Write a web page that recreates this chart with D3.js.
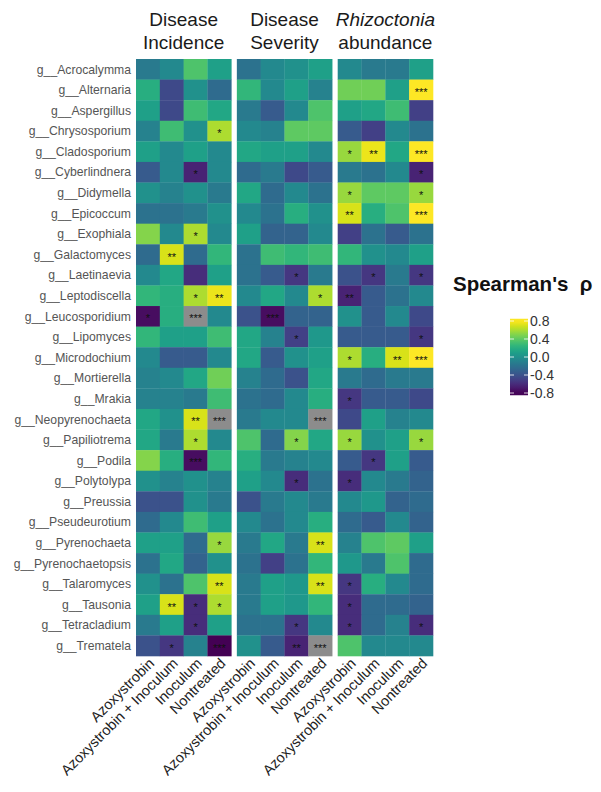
<!DOCTYPE html>
<html>
<head>
<meta charset="utf-8">
<script src="https://cdn.jsdelivr.net/npm/d3@7"></script>
<style>
  body { margin: 0; background: #fff; }
  text { font-family: "Liberation Sans", Arial, sans-serif; }
</style>
</head>
<body>
<svg id="chart" width="601" height="792"></svg>
<script>
// genus rows, top to bottom
const genera = ["g__Acrocalymma", "g__Alternaria", "g__Aspergillus", "g__Chrysosporium",
  "g__Cladosporium", "g__Cyberlindnera", "g__Didymella", "g__Epicoccum", "g__Exophiala",
  "g__Galactomyces", "g__Laetinaevia", "g__Leptodiscella", "g__Leucosporidium", "g__Lipomyces",
  "g__Microdochium", "g__Mortierella", "g__Mrakia", "g__Neopyrenochaeta", "g__Papiliotrema",
  "g__Podila", "g__Polytolypa", "g__Preussia", "g__Pseudeurotium", "g__Pyrenochaeta",
  "g__Pyrenochaetopsis", "g__Talaromyces", "g__Tausonia", "g__Tetracladium", "g__Trematela"];

const treatments = ["Azoxystrobin", "Azoxystrobin + Inoculum", "Inoculum", "Nontreated"];

const panels = ["Disease Incidence", "Disease Severity", "Rhizoctonia abundance"];
const panelTitles = [["Disease", "Incidence"], ["Disease", "Severity"], ["Rhizoctonia", "abundance"]];

// Spearman's rho, one row per genus, columns = treatments; null = NA (grey)
const incidence = [
  [-0.15, -0.05, 0.35, 0.1], [0.2, -0.45, 0.0, -0.25], [0.1, -0.45, 0.3, 0.15], [-0.1, 0.3, 0.0, 0.6],
  [0.1, -0.05, 0.1, -0.05], [-0.35, -0.05, -0.65, -0.05], [0.0, -0.1, 0.0, -0.15], [-0.2, -0.2, -0.15, 0.0],
  [0.5, -0.05, 0.6, -0.05], [-0.25, 0.7, -0.25, 0.25], [-0.05, 0.15, -0.6, 0.1], [0.25, 0.2, 0.6, 0.75],
  [-0.75, 0.2, null, -0.05], [0.25, 0.1, 0.1, 0.3], [-0.05, -0.35, -0.35, -0.05], [-0.1, -0.05, 0.15, 0.45],
  [-0.1, -0.1, -0.15, 0.3], [0.15, 0.0, 0.7, null], [0.15, -0.15, 0.6, -0.05], [0.5, 0.2, -0.75, 0.25],
  [0.0, -0.1, 0.0, -0.1], [-0.4, -0.4, 0.0, -0.15], [-0.25, -0.05, 0.3, 0.1], [0.1, 0.1, -0.25, 0.55],
  [-0.2, 0.15, -0.3, 0.0], [0.0, -0.2, 0.35, 0.7], [0.1, 0.7, -0.6, 0.6], [-0.15, 0.1, -0.6, 0.1],
  [-0.4, -0.55, -0.1, -0.8]
];
const incidenceSig = [
  ["", "", "", ""], ["", "", "", ""], ["", "", "", ""], ["", "", "", "*"],
  ["", "", "", ""], ["", "", "*", ""], ["", "", "", ""], ["", "", "", ""],
  ["", "", "*", ""], ["", "**", "", ""], ["", "", "", ""], ["", "", "*", "**"],
  ["*", "", "***", ""], ["", "", "", ""], ["", "", "", ""], ["", "", "", ""],
  ["", "", "", ""], ["", "", "**", "***"], ["", "", "*", ""], ["", "", "***", ""],
  ["", "", "", ""], ["", "", "", ""], ["", "", "", ""], ["", "", "", "*"],
  ["", "", "", ""], ["", "", "", "**"], ["", "**", "*", "*"], ["", "", "*", ""],
  ["", "*", "", "***"]
];

const severity = [
  [-0.2, -0.05, 0.0, 0.1], [0.25, -0.05, 0.1, -0.1], [-0.15, -0.35, -0.05, 0.35], [-0.05, -0.1, 0.4, 0.4],
  [0.15, 0.1, 0.1, -0.05], [-0.25, -0.15, -0.45, -0.35], [0.15, -0.25, -0.05, -0.2], [-0.05, -0.2, 0.2, 0.0],
  [0.1, -0.3, -0.3, -0.05], [-0.2, 0.3, 0.25, 0.3], [-0.2, -0.35, -0.55, -0.15], [-0.05, 0.15, -0.05, 0.6],
  [-0.4, -0.75, -0.3, -0.3], [0.15, -0.1, -0.5, 0.05], [0.15, -0.35, 0.0, 0.1], [-0.1, -0.25, -0.4, 0.15],
  [-0.2, -0.25, -0.05, 0.2], [-0.15, -0.05, -0.05, null], [0.35, -0.25, 0.5, 0.15], [0.2, -0.15, -0.1, -0.05],
  [0.1, -0.05, -0.6, -0.2], [-0.4, -0.15, -0.05, -0.15], [-0.05, -0.2, -0.05, 0.2], [-0.15, 0.15, -0.15, 0.7],
  [-0.2, -0.5, -0.2, 0.25], [-0.15, 0.1, 0.05, 0.7], [-0.15, 0.1, 0.05, 0.25], [-0.2, -0.2, -0.55, -0.05],
  [0.0, -0.35, -0.65, null]
];
const severitySig = [
  ["", "", "", ""], ["", "", "", ""], ["", "", "", ""], ["", "", "", ""],
  ["", "", "", ""], ["", "", "", ""], ["", "", "", ""], ["", "", "", ""],
  ["", "", "", ""], ["", "", "", ""], ["", "", "*", ""], ["", "", "", "*"],
  ["", "***", "", ""], ["", "", "*", ""], ["", "", "", ""], ["", "", "", ""],
  ["", "", "", ""], ["", "", "", "***"], ["", "", "*", ""], ["", "", "", ""],
  ["", "", "*", ""], ["", "", "", ""], ["", "", "", ""], ["", "", "", "**"],
  ["", "", "", ""], ["", "", "", "**"], ["", "", "", ""], ["", "", "*", ""],
  ["", "", "**", "***"]
];

const rhizoctonia = [
  [-0.05, -0.15, -0.15, 0.1], [0.45, 0.45, 0.1, 0.8], [0.1, 0.15, 0.3, -0.5], [-0.35, -0.5, -0.05, -0.2],
  [0.55, 0.75, 0.15, 0.8], [-0.15, -0.2, -0.05, -0.65], [0.55, 0.4, 0.4, 0.55], [0.7, 0.2, 0.35, 0.8],
  [-0.5, -0.2, -0.35, -0.2], [0.25, 0.0, -0.05, 0.1], [-0.4, -0.55, -0.15, -0.55], [-0.65, -0.35, -0.2, -0.05],
  [0.0, -0.35, -0.05, -0.45], [-0.35, -0.35, -0.35, -0.55], [0.6, 0.2, 0.7, 0.8], [-0.15, -0.25, -0.15, -0.15],
  [-0.55, -0.35, -0.35, -0.45], [-0.45, 0.1, -0.1, -0.05], [0.55, 0.0, 0.1, 0.55], [-0.35, -0.55, 0.1, -0.35],
  [-0.6, -0.05, -0.15, -0.3], [-0.05, 0.05, -0.3, -0.25], [-0.25, -0.35, -0.05, -0.3], [-0.1, 0.35, 0.4, 0.1],
  [0.05, -0.15, 0.35, -0.25], [-0.55, 0.2, -0.05, -0.25], [-0.6, -0.25, -0.25, -0.3], [-0.6, -0.25, -0.1, -0.6],
  [0.35, -0.05, -0.05, -0.05]
];
const rhizoctoniaSig = [
  ["", "", "", ""], ["", "", "", "***"], ["", "", "", ""], ["", "", "", ""],
  ["*", "**", "", "***"], ["", "", "", "*"], ["*", "", "", "*"], ["**", "", "", "***"],
  ["", "", "", ""], ["", "", "", ""], ["", "*", "", "*"], ["**", "", "", ""],
  ["", "", "", ""], ["", "", "", "*"], ["*", "", "**", "***"], ["", "", "", ""],
  ["*", "", "", ""], ["", "", "", ""], ["*", "", "", "*"], ["", "*", "", ""],
  ["*", "", "", ""], ["", "", "", ""], ["", "", "", ""], ["", "", "", ""],
  ["", "", "", ""], ["*", "", "", ""], ["*", "", "", ""], ["*", "", "", "*"],
  ["", "", "", ""]
];

const legendTicks = [0.8, 0.4, 0.0, -0.4, -0.8];

const panelValues = [incidence, severity, rhizoctonia];
const panelSig = [incidenceSig, severitySig, rhizoctoniaSig];

const svg = d3.select("#chart");

let panelScale = d3.scaleBand().domain(panels).range([136, 433]).paddingInner(0.055);
let y = d3.scaleBand().domain(genera).range([59, 656]);
let color = d3.scaleSequential(d3.interpolateViridis).domain([-0.8, 0.8]).clamp(true);

// flatten into cells
let cells = [];
panels.forEach(function (p, pi) {
    genera.forEach(function (g, gi) {
        treatments.forEach(function (t, ti) {
            cells.push({panel: p, genus: g, treatment: t,
                value: panelValues[pi][gi][ti], sig: panelSig[pi][gi][ti]});
        });
    });
});

panels.forEach(function (p, pi) {
    let x = d3.scaleBand().domain(treatments)
        .range([panelScale(p), panelScale(p) + panelScale.bandwidth()]);
    let g = svg.append("g").attr("class", "panel");
    let data = cells.filter(d => d.panel === p);

    g.selectAll("rect")
        .data(data)
        .join("rect")
        .attr("x", d => x(d.treatment))
        .attr("y", d => y(d.genus))
        .attr("width", x.bandwidth() + 0.3)
        .attr("height", y.bandwidth() + 0.3)
        .attr("fill", d => d.value === null ? "#8c8c8c" : color(d.value));

    g.selectAll("text.sig")
        .data(data.filter(d => d.sig !== ""))
        .join("text")
        .attr("class", "sig")
        .attr("x", d => x(d.treatment) + x.bandwidth() / 2)
        .attr("y", d => y(d.genus) + y.bandwidth() / 2 + 6)
        .attr("text-anchor", "middle")
        .attr("font-size", 11)
        .attr("fill", "#111")
        .text(d => d.sig);

    // panel strip title
    let cx = panelScale(p) + panelScale.bandwidth() / 2;
    let title = svg.append("text")
        .attr("text-anchor", "middle")
        .attr("font-size", 19)
        .attr("fill", "#1a1a1a");
    title.append("tspan").attr("x", cx).attr("y", 26)
        .attr("font-style", pi === 2 ? "italic" : "normal")
        .text(panelTitles[pi][0]);
    title.append("tspan").attr("x", cx).attr("y", 49)
        .text(panelTitles[pi][1]);

    // rotated treatment labels
    svg.append("g").selectAll("text")
        .data(treatments)
        .join("text")
        .attr("transform", t => "translate(" + (x(t) + x.bandwidth() / 2) + "," + 657 + ") rotate(-45)")
        .attr("text-anchor", "end")
        .attr("dy", "0.7em")
        .attr("font-size", 14.5)
        .attr("fill", "#222")
        .text(t => t);
});

// genus labels
svg.append("g").selectAll("text")
    .data(genera)
    .join("text")
    .attr("x", 131)
    .attr("y", d => y(d) + y.bandwidth() / 2)
    .attr("dy", "0.35em")
    .attr("text-anchor", "end")
    .attr("font-size", 12.2)
    .attr("fill", "#555")
    .text(d => d);

// legend
let legendY = d3.scaleLinear().domain([0.8, -0.8]).range([321, 393]);
let defs = svg.append("defs");
let grad = defs.append("linearGradient").attr("id", "viridis-grad")
    .attr("x1", 0).attr("y1", 1).attr("x2", 0).attr("y2", 0);
d3.range(0, 1.0001, 0.05).forEach(function (t) {
    grad.append("stop").attr("offset", t).attr("stop-color", color(-0.85 + t * 1.7));
});

svg.append("text")
    .attr("x", 453)
    .attr("y", 291)
    .attr("font-size", 20.5)
    .attr("font-weight", "bold")
    .attr("fill", "#111")
    .text("Spearman's\u00A0 ρ");

svg.append("rect")
    .attr("x", 510)
    .attr("y", legendY(0.85))
    .attr("width", 18)
    .attr("height", legendY(-0.85) - legendY(0.85))
    .attr("fill", "url(#viridis-grad)");

let legendG = svg.append("g");
legendTicks.forEach(function (v) {
    legendG.append("line").attr("x1", 510).attr("x2", 514)
        .attr("y1", legendY(v)).attr("y2", legendY(v))
        .attr("stroke", "#fff").attr("stroke-width", 0.8);
    legendG.append("line").attr("x1", 524).attr("x2", 528)
        .attr("y1", legendY(v)).attr("y2", legendY(v))
        .attr("stroke", "#fff").attr("stroke-width", 0.8);
    legendG.append("text")
        .attr("x", 530)
        .attr("y", legendY(v))
        .attr("dy", "0.35em")
        .attr("font-size", 14)
        .attr("fill", "#333")
        .text(d3.format(".1f")(v).replace("\u2212", "-"));
});
</script>
</body>
</html>
